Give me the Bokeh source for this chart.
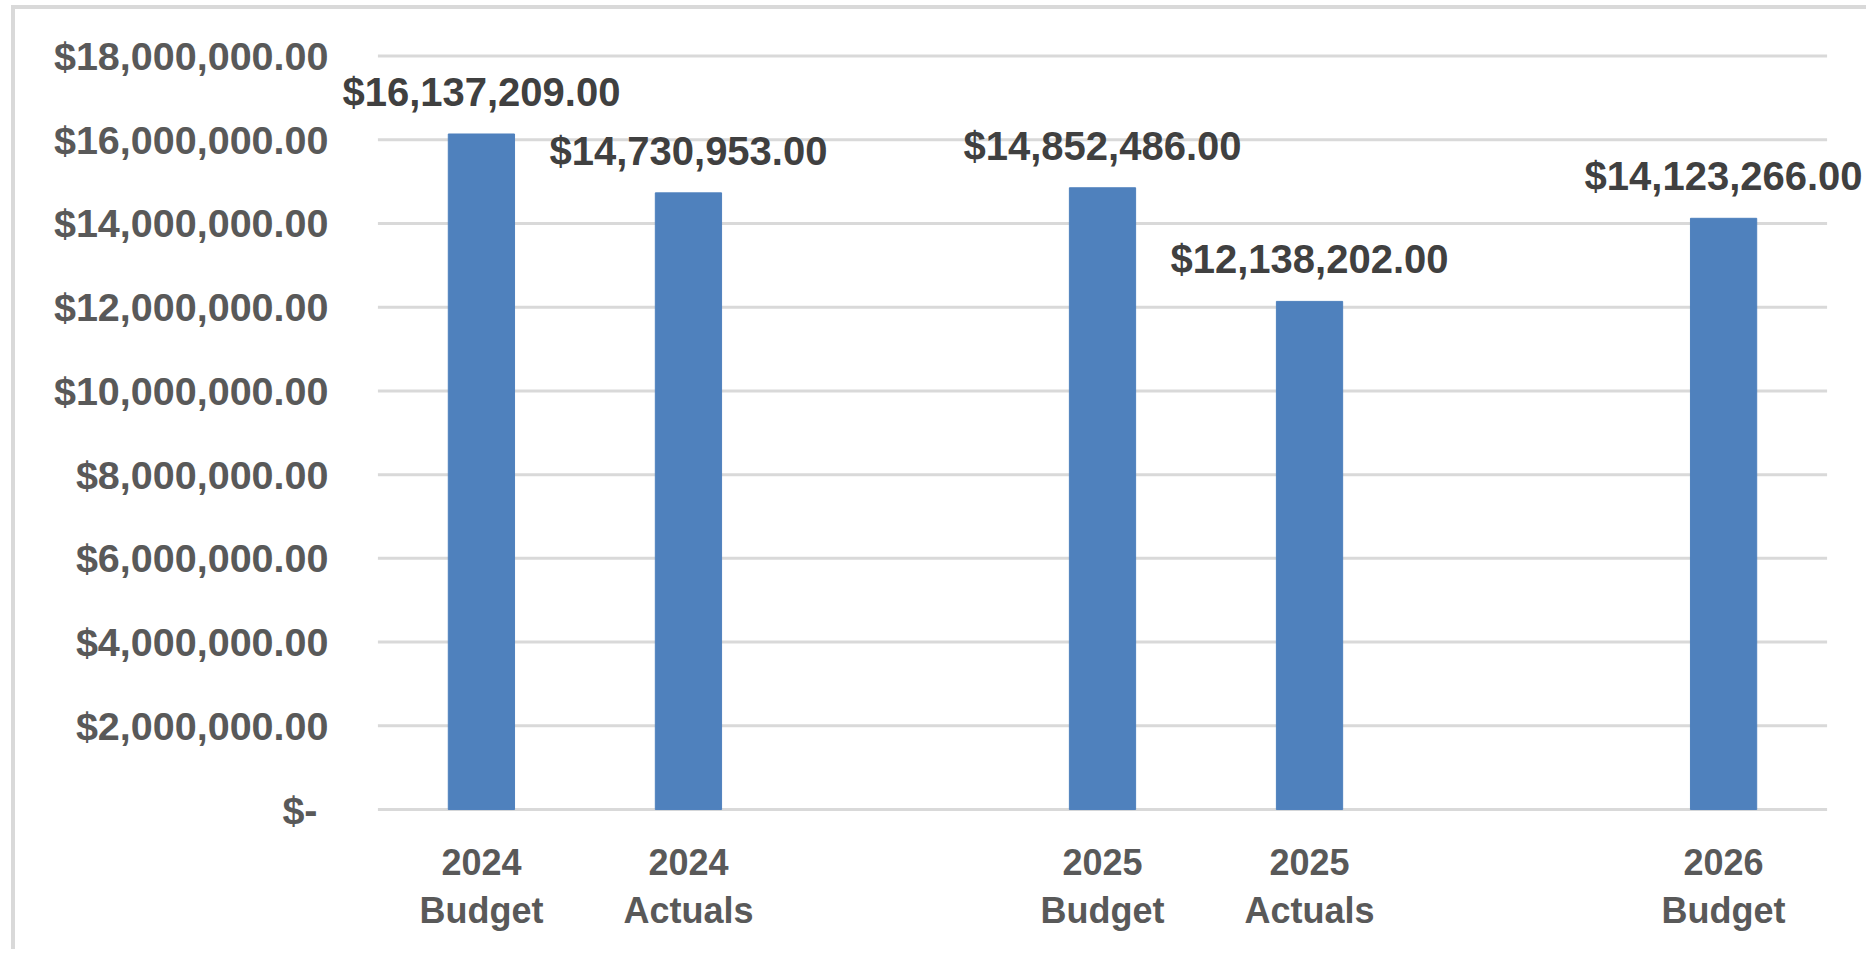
from bokeh.plotting import figure
from bokeh.models import FactorRange, Range1d, FixedTicker, NumeralTickFormatter, Label
from bokeh.embed import file_html
from bokeh.resources import INLINE

# ---- data ----
categories = ["2024 Budget", "2024 Actuals", " ", "2025 Budget", "2025 Actuals", "  ", "2026 Budget"]
bar_categories = ["2024 Budget", "2024 Actuals", "2025 Budget", "2025 Actuals", "2026 Budget"]
years = ["2024", "2024", "2025", "2025", "2026"]
kinds = ["Budget", "Actuals", "Budget", "Actuals", "Budget"]
amounts = [16137209.00, 14730953.00, 14852486.00, 12138202.00, 14123266.00]
y_ticks = [0, 2000000, 4000000, 6000000, 8000000, 10000000, 12000000, 14000000, 16000000, 18000000]

GRID = "#d9d9d9"
TXT = "#595959"
FONT = "Liberation Sans"

W, H = 1855, 944
xr = FactorRange(*categories, range_padding=0.2, range_padding_units="absolute", factor_padding=0)
# the frame extends below zero so that the two-line category labels can be drawn inside it
p = figure(x_range=xr, y_range=Range1d(-3200000, 18060000),
           width=W, height=H, output_backend="svg", toolbar_location=None,
           min_border_left=321, min_border_right=2, min_border_top=44, min_border_bottom=10)
p.styles = {"margin-left": "11px", "margin-top": "5px",
            "border-top": "4px solid " + GRID, "border-left": "4px solid " + GRID}

# horizontal gridlines spanning the category area only
p.segment(x0=0, x1=len(categories), y0=y_ticks, y1=y_ticks, line_color=GRID, line_width=3)

p.vbar(x=bar_categories, top=amounts, width=0.32,
       fill_color="#4f81bd", line_color="#4f81bd", line_width=1)

for cat, amt, yr, kd in zip(bar_categories, amounts, years, kinds):
    xc = categories.index(cat) + 0.5  # synthetic centre of the factor on the categorical scale
    p.add_layout(Label(x=xc, y=amt, text="${:,.2f}".format(amt), y_offset=42,
                       text_align="center", text_baseline="alphabetic",
                       text_font=FONT, text_font_style="bold",
                       text_font_size="40px", text_color="#404040"))
    p.add_layout(Label(x=xc, y=0, text=yr, y_offset=-52,
                       text_align="center", text_baseline="alphabetic",
                       text_font=FONT, text_font_style="bold",
                       text_font_size="36px", text_color=TXT))
    p.add_layout(Label(x=xc, y=0, text=kd, y_offset=-101,
                       text_align="center", text_baseline="alphabetic",
                       text_font=FONT, text_font_style="bold",
                       text_font_size="36px", text_color=TXT))

p.outline_line_color = None
p.background_fill_color = "white"
p.border_fill_color = "white"
p.xgrid.grid_line_color = None
p.ygrid.grid_line_color = None

p.yaxis.ticker = FixedTicker(ticks=y_ticks)
p.yaxis.formatter = NumeralTickFormatter(format="$0,0.00")
p.yaxis.major_label_overrides = {0: "$-\u00a0"}
p.yaxis.axis_line_color = None
p.yaxis.major_tick_line_color = None
p.yaxis.minor_tick_line_color = None
p.yaxis.major_tick_out = 0
p.yaxis.major_label_standoff = 8
p.yaxis.major_label_text_font = FONT
p.yaxis.major_label_text_font_style = "bold"
p.yaxis.major_label_text_font_size = "39.5px"
p.yaxis.major_label_text_color = TXT

p.xaxis.visible = False

open("out.html", "w").write(file_html(p, INLINE))
